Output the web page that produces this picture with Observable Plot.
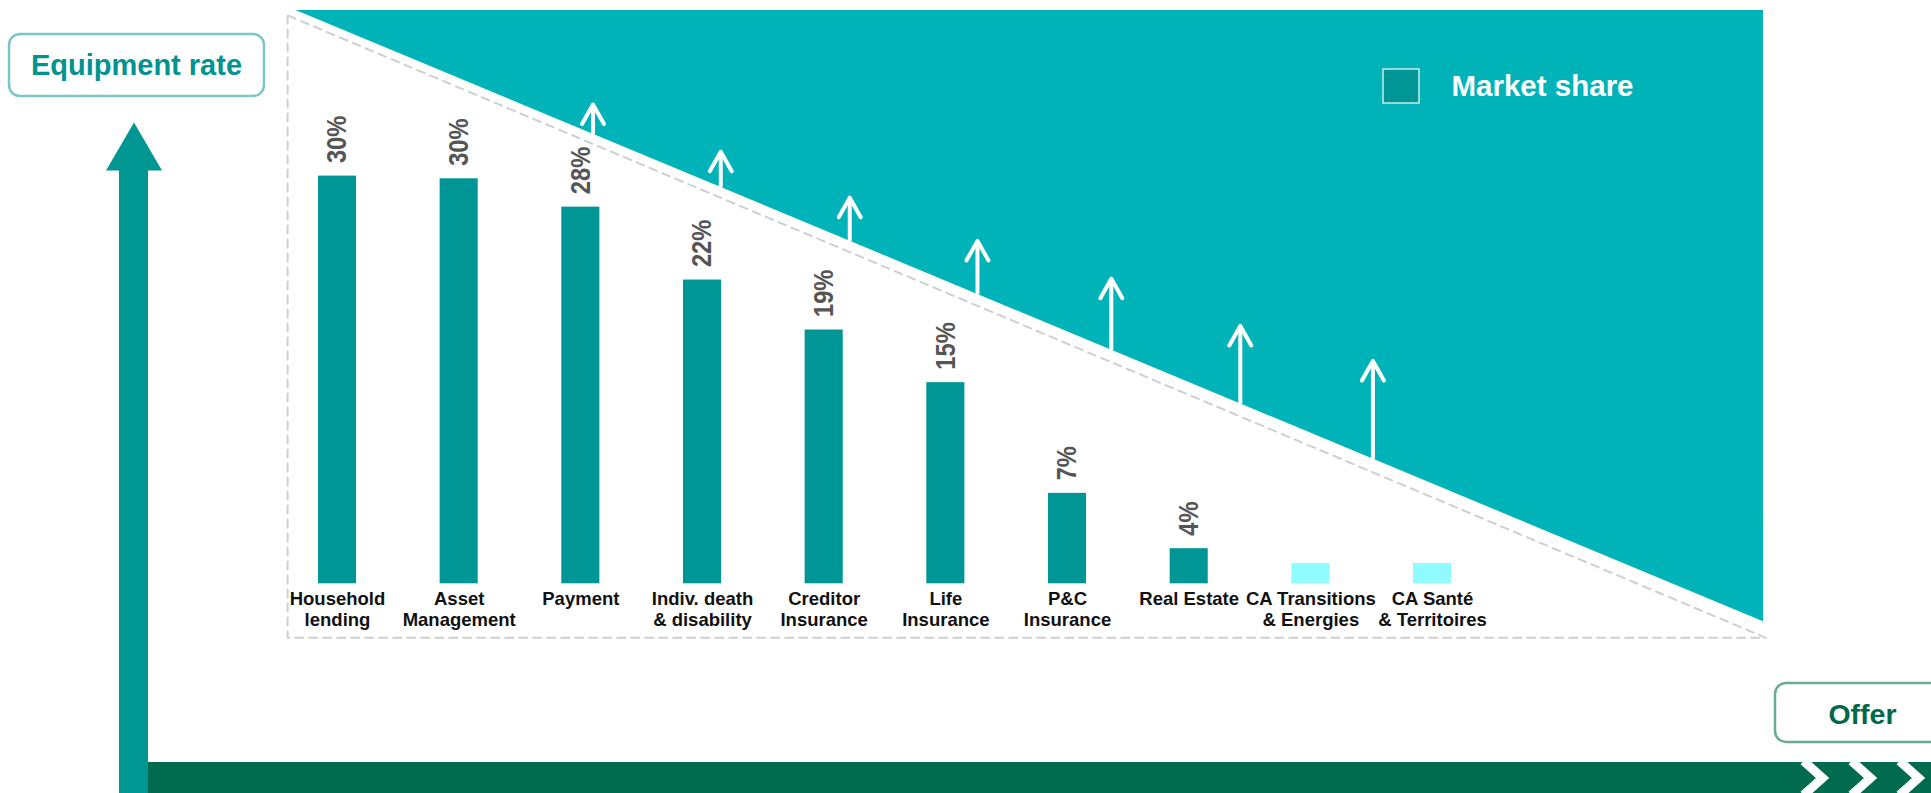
<!DOCTYPE html>
<html>
<head>
<meta charset="utf-8">
<script src="https://cdn.jsdelivr.net/npm/d3@7"></script>
<script src="https://cdn.jsdelivr.net/npm/@observablehq/plot@0.6"></script>
<style>
  html, body { margin: 0; padding: 0; background: #ffffff; overflow: hidden; }
</style>
</head>
<body>
<div id="chart"></div>
<script>
// ---------- DATA ----------
const categories = [
  "Household\nlending", "Asset\nManagement", "Payment", "Indiv. death\n& disability",
  "Creditor\nInsurance", "Life\nInsurance", "P&C\nInsurance", "Real Estate",
  "CA Transitions\n& Energies", "CA Santé\n& Territoires"
];
const marketShare = [30.2, 30.0, 27.9, 22.5, 18.8, 14.9, 6.7, 2.6, 1.5, 1.5];
const shareLabels = ["30%", "30%", "28%", "22%", "19%", "15%", "7%", "4%", "", ""];
const newEntity = [false, false, false, false, false, false, false, false, true, true];

// growth arrows: position (category index) and tip level (%)
const arrowPositions = [2.1, 3.15, 4.21, 5.26, 6.36, 7.42, 8.51];
const arrowTips = [35.5, 32.0, 28.6, 25.4, 22.6, 19.1, 16.5];

// potential triangle edge (category index, %)
const potentialIndex = [-0.34, 11.72];
const potentialLevel = [42.47, -2.81];
// dashed outline (category index, %)
const outlineIndex = [-0.41, -0.41, 11.74, -0.41];
const outlineLevel = [42.1, -4.0, -4.0, 42.1];

const legendLabel = "Market share";
const yTitle = "Equipment rate";
const xTitle = "Offer";

// ---------- LAYOUT / STYLE ----------
const W = 1931, H = 793;
const X0 = 337, STEP = 121.67;   // pixel of first category centre, pixels per category
const BASE = 583.3, PX = 13.5;   // pixel of 0 %, pixels per %
const FONT = "'Liberation Sans', Arial, Helvetica, sans-serif";
const TEAL = "#00b3b9";
const BAR = "#009696";
const NEW = "#8ffbff";
const AXIS_TEAL = "#009692";
const GREEN = "#006b4f";

const rows = categories.map((name, k) => ({
  idx: k, name, value: marketShare[k], label: shareLabels[k], isNew: newEntity[k]
}));
const potential = potentialIndex.map((i, k) => ({i, pct: potentialLevel[k]}));
const outline = outlineIndex.map((i, k) => ({i, pct: outlineLevel[k]}));
const edgeAt = (i) => potentialLevel[0] + (i - potentialIndex[0]) / (potentialIndex[1] - potentialIndex[0]) * (potentialLevel[1] - potentialLevel[0]);
const arrows = arrowPositions.map((i, k) => ({i, base: edgeAt(i), tip: arrowTips[k]}));

const chevronUp = { draw(ctx) { ctx.moveTo(-11, 19.5); ctx.lineTo(0, 0); ctx.lineTo(11, 19.5); } };
const triangleUp = { draw(ctx) { ctx.moveTo(0, -48); ctx.lineTo(28, 0); ctx.lineTo(-28, 0); ctx.closePath(); } };
const chevronsRight = { draw(ctx) {
  for (let k = 0; k < 3; k++) { const o = k * 48; ctx.moveTo(o - 19, -17); ctx.lineTo(o, 0); ctx.lineTo(o - 19, 17); }
} };

const box = (l, t, r, b, opts) => Plot.rect([0], {insetLeft: l, insetTop: t, insetRight: W - r, insetBottom: H - b, ...opts});

const chart = Plot.plot({
  width: W, height: H,
  marginTop: 0, marginRight: 0, marginBottom: 0, marginLeft: 0,
  x: {type: "linear", domain: [-X0 / STEP, (W - X0) / STEP], axis: null},
  y: {type: "linear", domain: [-(H - BASE) / PX, BASE / PX], axis: null},
  color: {type: "identity"},
  style: {fontFamily: FONT, background: "#ffffff", overflow: "visible"},
  marks: [
    // potential triangle
    Plot.areaY(potential, {x: "i", y1: potentialLevel[0], y2: "pct", fill: TEAL}),
    // dashed outline
    Plot.line(outline, {x: "i", y: "pct", stroke: "#cfcfcf", strokeWidth: 2, strokeDasharray: "8,6"}),
    // growth arrows
    Plot.link(arrows, {x1: "i", x2: "i", y1: "base", y2: "tip", stroke: "white", strokeWidth: 4}),
    Plot.dot(arrows, {x: "i", y: "tip", symbol: chevronUp, fill: "none", stroke: "white", strokeWidth: 4, strokeLinecap: "round", strokeLinejoin: "round"}),
    // bars
    Plot.rect(rows, {x1: d => d.idx - 0.5, x2: d => d.idx + 0.5, y1: 0, y2: "value", insetLeft: 41.8, insetRight: 41.8, fill: d => d.isNew ? NEW : BAR}),
    // value labels
    Plot.text(rows, {x: "idx", y: "value", text: "label", rotate: -90, textAnchor: "start", lineAnchor: "middle", dy: -13, fontSize: 28, fontWeight: "bold", fill: "#555555"}),
    // category labels
    Plot.text(rows, {x: "idx", y: 0, text: "name", textAnchor: "middle", lineAnchor: "top", dy: 6, fontSize: 18.5, fontWeight: "bold", lineHeight: 1.135, fill: "#111111"}),
    // vertical axis arrow
    box(119, 168, 148, H, {fill: AXIS_TEAL}),
    Plot.dot([0], {frameAnchor: "top-left", dx: 133.5, dy: 170, symbol: triangleUp, fill: AXIS_TEAL, stroke: "none"}),
    // horizontal axis band
    box(148, 762, W, H, {fill: GREEN}),
    Plot.dot([0], {frameAnchor: "top-left", dx: 1822, dy: 777.5, symbol: chevronsRight, fill: "none", stroke: "white", strokeWidth: 9, strokeLinejoin: "miter"}),
    // axis title boxes
    box(9, 34, 264, 96, {fill: "white", stroke: "#7cc6c6", strokeWidth: 2.5, rx: 11}),
    Plot.text([yTitle], {text: d => d, frameAnchor: "top-left", dx: 136, dy: 65, textAnchor: "middle", lineAnchor: "middle", fontSize: 29, fontWeight: "bold", fill: "#00938f"}),
    box(1775, 683, W + 20, 742, {fill: "white", stroke: "#6aaa92", strokeWidth: 2.5, rx: 11}),
    Plot.text([xTitle], {text: d => d, frameAnchor: "top-left", dx: 1862, dy: 714, textAnchor: "middle", lineAnchor: "middle", fontSize: 28.5, fontWeight: "bold", fill: "#00694b"}),
    // legend
    box(1383, 69, 1419, 103, {fill: BAR, stroke: "#c8eeee", strokeWidth: 1.5}),
    Plot.text([legendLabel], {text: d => d, frameAnchor: "top-left", dx: 1451, dy: 86, textAnchor: "start", lineAnchor: "middle", fontSize: 29.5, fontWeight: "bold", fill: "white"})
  ]
});

// condensed value labels (narrow bold face)
d3.select(chart).selectAll("text").each(function () {
  const t = this.getAttribute("transform");
  if (t && t.includes("rotate(-90)")) this.setAttribute("transform", t + " scale(0.845,1)");
});

document.getElementById("chart").appendChild(chart);
</script>
</body>
</html>
